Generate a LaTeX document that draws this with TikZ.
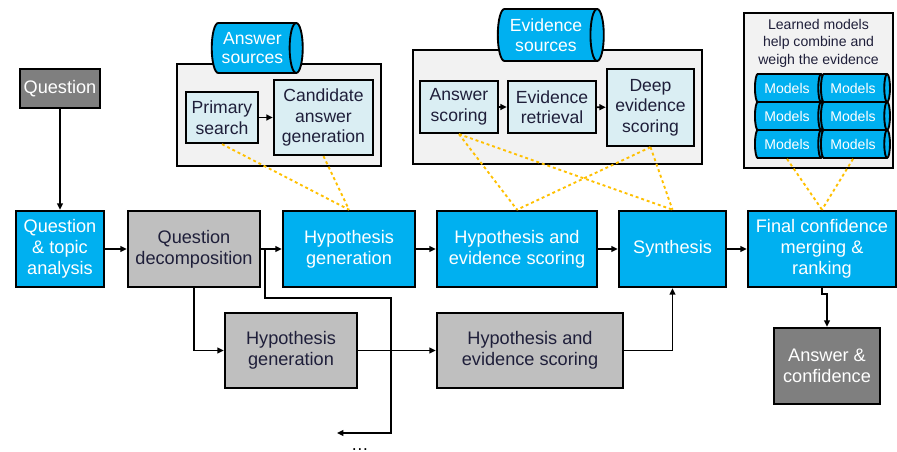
\documentclass[tikz,border=0pt]{standalone}
\usepackage{fontspec}
\setmainfont{Liberation Sans}
\usetikzlibrary{
  arrows.meta,
  shapes.geometric
}
\definecolor{ibmblue}{HTML}{00B0F0}
\definecolor{boxgray}{HTML}{BFBFBF}
\definecolor{stepgray}{HTML}{7F7F7F}
\definecolor{paleblue}{HTML}{DAEEF3}
\definecolor{panel}{HTML}{F2F2F2}
\definecolor{hint}{HTML}{FFC000}
\definecolor{ink}{HTML}{1F1F3A}

\begin{document}
\begin{tikzpicture}[
  x=0.03cm, y=-0.03cm,
  stage/.style={draw, line width=2.2pt, minimum height=2.28cm, inner sep=1pt,
                align=center, font=\fontsize{15.5}{18}\selectfont},
  bluestage/.style={stage, fill=ibmblue, text=white},
  graystage/.style={stage, fill=boxgray, text=ink},
  darkstage/.style={stage, fill=stepgray, text=white},
  panelbox/.style={draw, line width=2pt, fill=panel, inner sep=0pt},
  subtask/.style={draw, line width=2pt, fill=paleblue, text=ink, inner sep=1pt,
                  align=center, font=\fontsize{15}{17.5}\selectfont},
  store/.style={cylinder, draw, line width=1.6pt, fill=ibmblue, text=white,
                aspect=0.38, inner sep=1pt, align=center,
                font=\fontsize{15}{17}\selectfont},
  modelstore/.style={store, aspect=0.45, minimum height=2.07cm, minimum width=0.84cm,
                     font=\fontsize{12}{14}\selectfont},
  arr/.style={-{Triangle[length=5.5pt,width=5pt]}, line width=1.6pt},
  hintline/.style={hint, line width=1.6pt, dash pattern=on 2.5pt off 2.5pt},
]
  \useasboundingbox (0,0) rectangle (897,452);

  % Main pipeline
  \node[darkstage, minimum width=2.4cm, minimum height=1.17cm] (question) at (60,88.5) {Question};
  \node[bluestage, minimum width=2.64cm] (qta) at (60,249) {Question\\ \& topic\\ analysis};
  \node[graystage, minimum width=3.96cm] (decomp) at (194,249) {Question\\ decomposition};
  \node[bluestage, minimum width=3.96cm] (hypgen) at (349,249) {Hypothesis\\ generation};
  \node[bluestage, minimum width=4.8cm] (hes) at (517,249) {Hypothesis and\\ evidence scoring};
  \node[bluestage, minimum width=3.21cm] (synth) at (672.5,249) {Synthesis};
  \node[bluestage, minimum width=4.44cm] (final) at (822,249) {Final confidence\\ merging \&\\ ranking};
  \node[darkstage, minimum width=3.18cm] (ans) at (827,366) {Answer \&\\ confidence};

  % Second decomposition branch
  \node[graystage, minimum width=3.96cm, minimum height=2.25cm] (hypgen2) at (291,350.5) {Hypothesis\\ generation};
  \node[graystage, minimum width=5.58cm, minimum height=2.25cm] (hes2) at (530,350.5) {Hypothesis and\\ evidence scoring};

  % Answer sources
  \node[panelbox, minimum width=6.12cm, minimum height=3.06cm] (agroup) at (279,115) {};
  \node[store, minimum height=2.73cm, minimum width=1.5cm] (asrc) at (252.5,48) {Answer\\ sources};
  \node[subtask, minimum width=2.16cm, minimum height=1.53cm] (primary) at (222,117.5) {Primary\\ search};
  \node[subtask, minimum width=2.97cm, minimum height=2.25cm] (cand) at (323.5,117.5) {Candidate\\ answer\\ generation};

  % Evidence sources
  \node[panelbox, minimum width=8.67cm, minimum height=3.42cm] (egroup) at (557.5,107) {};
  \node[store, minimum height=3.18cm, minimum width=1.56cm] (esrc) at (546,35) {Evidence\\ sources};
  \node[subtask, minimum width=2.34cm, minimum height=1.56cm] (ascore) at (459,107) {Answer\\ scoring};
  \node[subtask, minimum width=2.64cm, minimum height=1.56cm] (eretr) at (552,107) {Evidence\\ retrieval};
  \node[subtask, minimum width=2.61cm, minimum height=2.31cm] (deep) at (650.5,107.5) {Deep\\ evidence\\ scoring};

  % Learned models
  \node[panelbox, minimum width=4.47cm, minimum height=4.65cm] (mgroup) at (818.5,90.5) {};
  \node[text=ink, align=center, font=\fontsize{12}{14.9}\selectfont] (learned) at (818.5,43)
    {Learned models\\ help combine and\\ weigh the evidence};
  \foreach \row/\y in {1/88,2/116,3/144} {
    \node[modelstore] (mA\row) at (787,\y) {Models};
    \node[modelstore] (mB\row) at (853,\y) {Models};
  }

  % Flow
  \draw[arr] (question) -- (qta);
  \draw[arr] (qta) -- (decomp);
  \draw[arr] (decomp) -- (hypgen);
  \draw[arr] (hypgen) -- (hes);
  \draw[arr] (hes) -- (synth);
  \draw[arr] (synth) -- (final);
  \draw[arr] (final.south) -- ++(0,6) -| (ans.north);
  \draw[arr] (primary) -- (cand);
  \draw[arr] (ascore) -- (eretr);
  \draw[arr] (eretr) -- (deep);

  \coordinate (split) at (265,249);
  \coordinate (more) at (337,433);
  \draw[arr] (decomp.south) |- (hypgen2.west);
  \draw[arr] (hypgen2) -- (hes2);
  \draw[arr] (hes2.east) -| (synth.south);
  \draw[arr] (split) |- (391,298) |- (more);
  \node[anchor=base, font=\fontsize{15}{17.5}\selectfont] (dots) at (360,450) {\dots};

  % Dotted hints
  \draw[hintline] (primary.south) -- (hypgen.north);
  \draw[hintline] (cand.south) -- (hypgen.north);
  \draw[hintline] (ascore.south) -- (hes.north);
  \draw[hintline] (ascore.south) -- (synth.north);
  \draw[hintline] (deep.south) -- (hes.north);
  \draw[hintline] (deep.south) -- (synth.north);
  \draw[hintline] (mA3.south) -- (final.north);
  \draw[hintline] (mB3.south) -- (final.north);

\end{tikzpicture}
\end{document}
